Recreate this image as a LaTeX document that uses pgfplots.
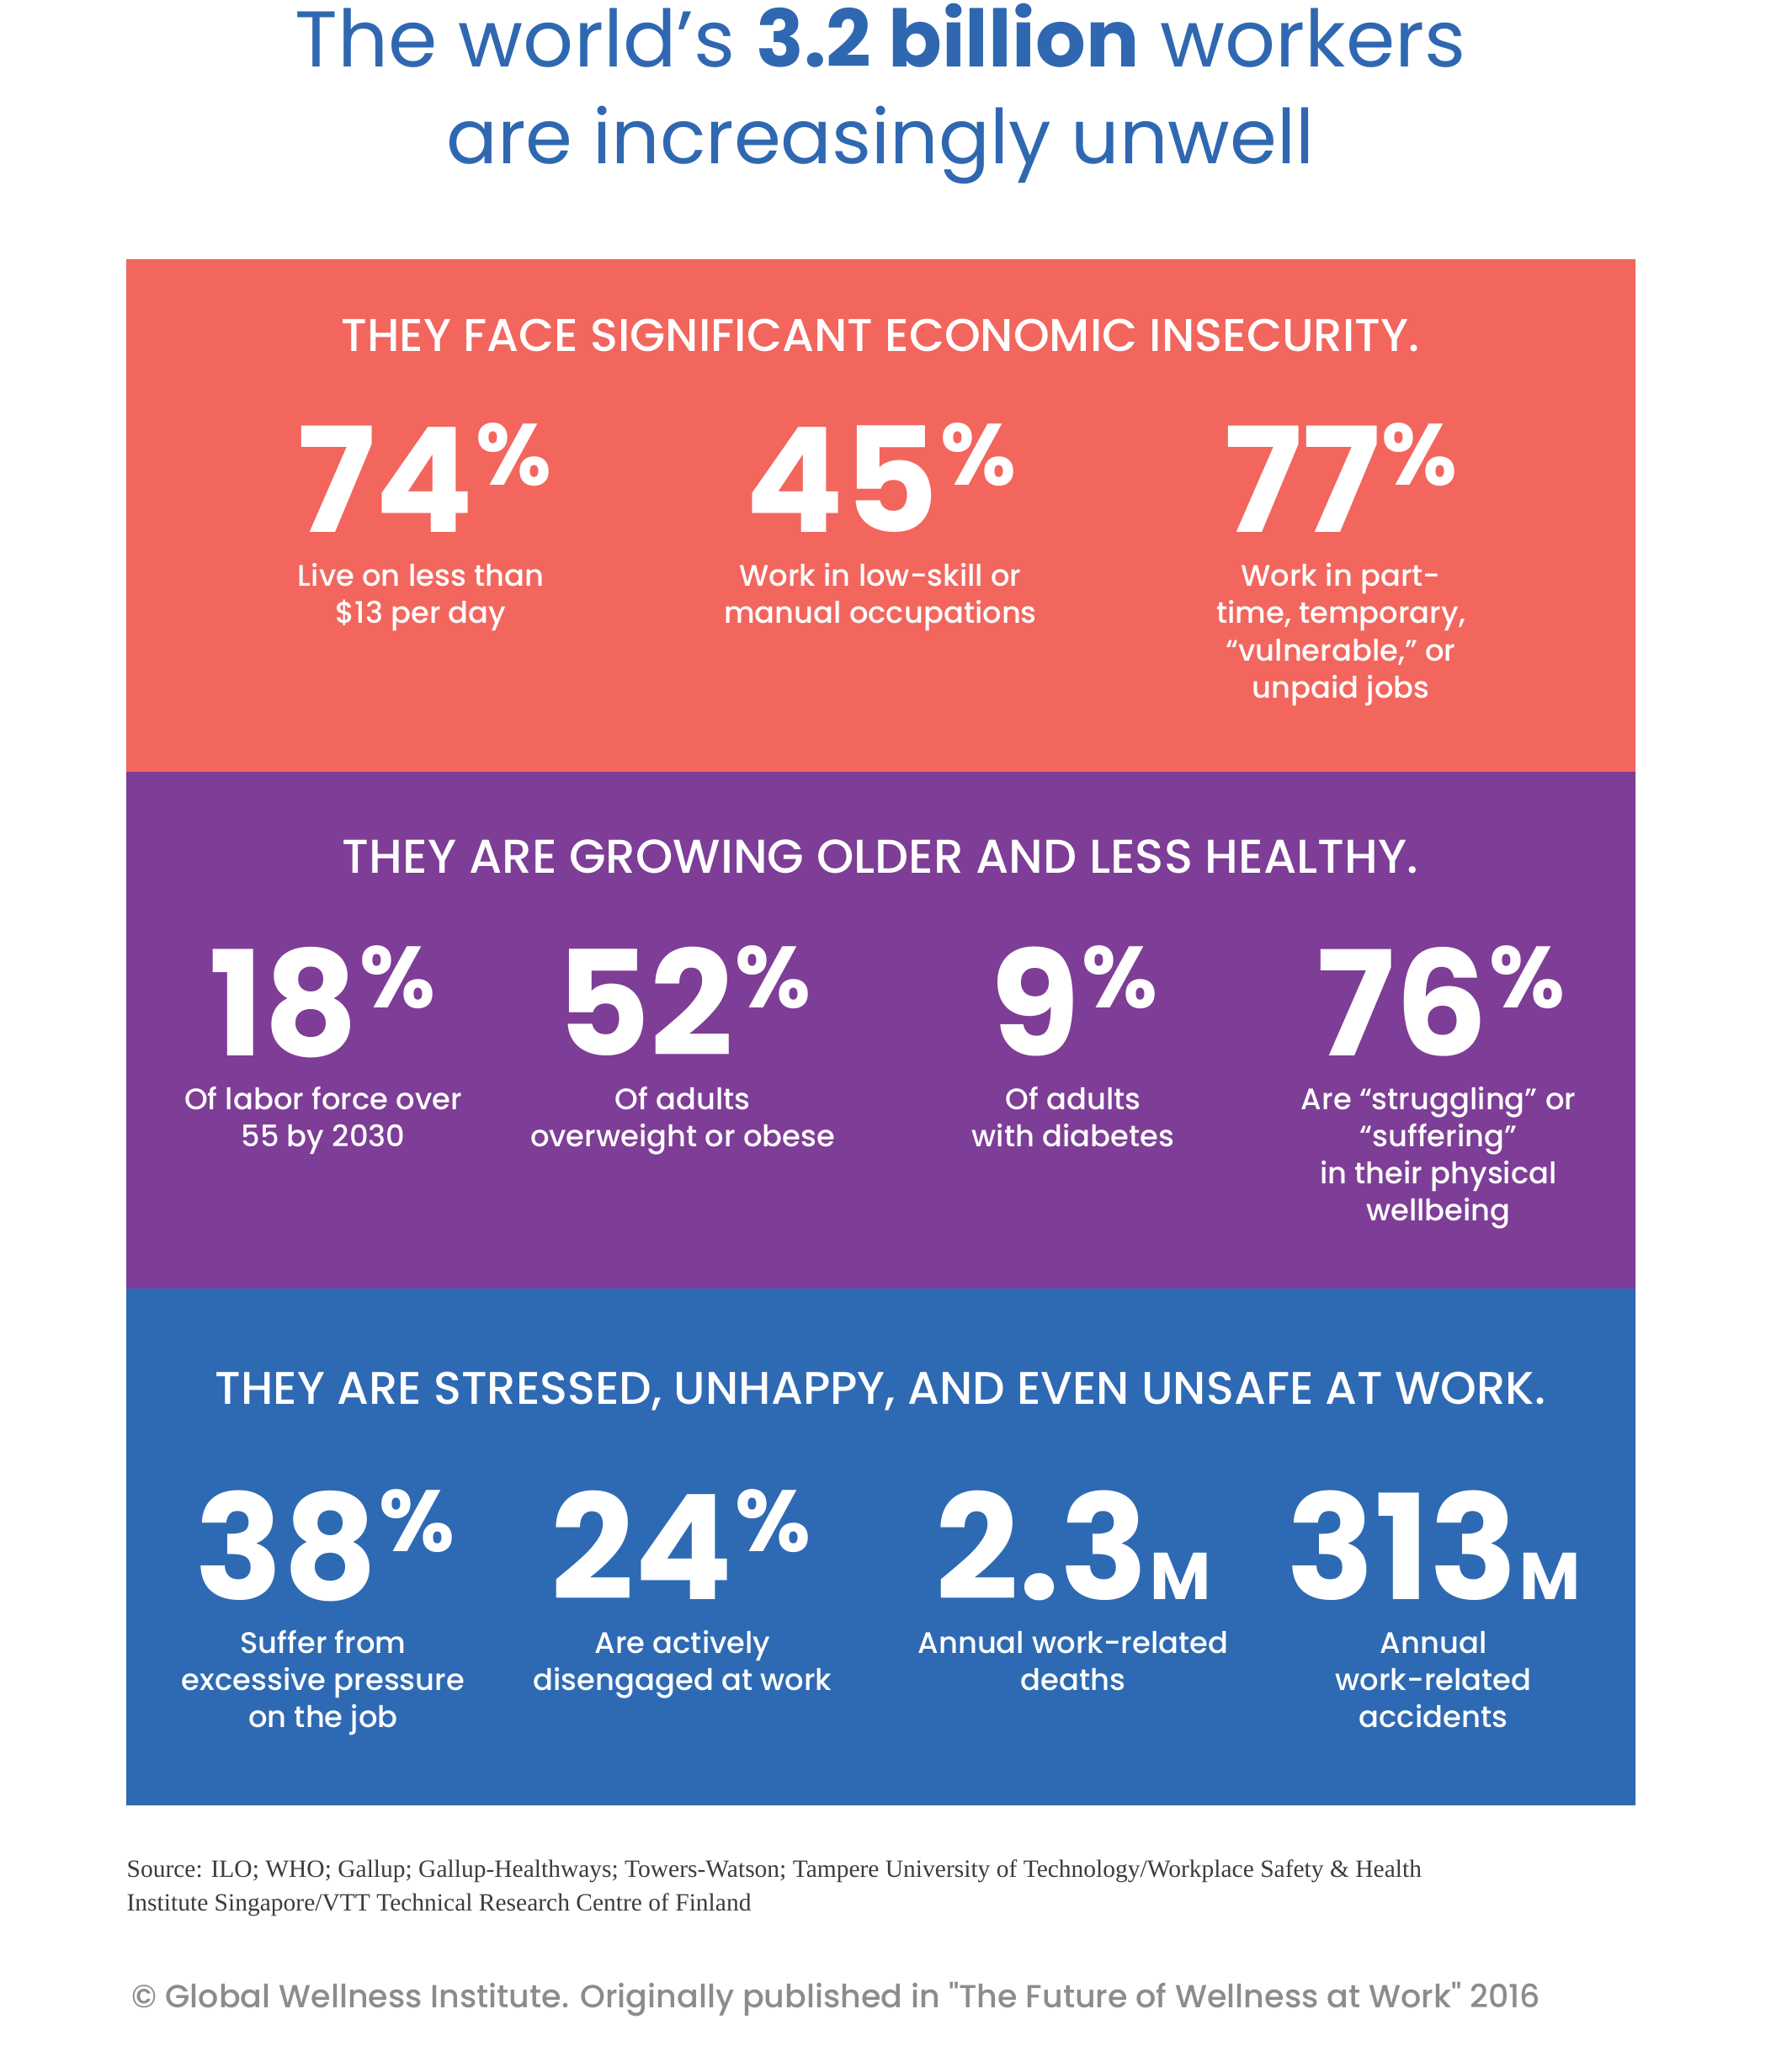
\documentclass[border=0pt]{standalone}
\usepackage{pgfplots}
\pgfplotsset{compat=1.18}
\usepackage{pgfplotstable}
\usepackage{fontspec}
\setmainfont{Poppins}
\newfontfamily\medfont{Poppins Medium}
\newfontfamily\srcfont{Liberation Serif}
\definecolor{cred}{HTML}{F2665E}
\definecolor{cpurple}{HTML}{7E3D96}
\definecolor{cblue}{HTML}{2E6AB3}
\definecolor{ctitle}{HTML}{2F68B1}
\definecolor{csrc}{HTML}{3C3C3C}
\definecolor{ccopy}{HTML}{8C8C8C}
\newcommand\bigfont{\fontsize{52}{52}\selectfont\bfseries}
\newcommand\pctnum[1]{{\bigfont #1}\hspace{0.6pt}\raisebox{17pt}{\fontsize{31}{31}\selectfont\bfseries\%}}
\newcommand\mnum[1]{{\bigfont #1}\hspace{0.5pt}{\fontsize{23.6}{24}\selectfont\bfseries M}}
\newcommand\lab[3]{\node[anchor=base, text=white, inner sep=0pt, font=\medfont\fontsize{10.6}{12}\selectfont] at (axis cs:#1,#2) {#3};}
\newcommand\head[3]{\node[anchor=base, text=white, inner sep=0pt] at (axis cs:1046,#1) {\resizebox{#2}{!}{\medfont\fontsize{15}{18}\selectfont #3}};}

\pgfplotstableread{
x y label
504 633 74
1046 633 45
1593 633 77
383 1254 18
812 1254 52
1276 1254 9
1712 1254 76
386 1900 38
809 1900 24
}\pcttable
\pgfplotstableread{
x y label
1275 1900 2.3
1703 1900 313
}\mtable

\begin{document}
\begin{tikzpicture}
\begin{axis}[
  scale only axis, width=638.7pt, height=735pt,
  xmin=0, xmax=2129, ymin=0, ymax=2450, y dir=reverse,
  hide axis, clip=false]
% backgrounds
\addplot[fill=white, draw=none] coordinates {(0,0) (2129,0) (2129,2450) (0,2450) (0,0)};
\addplot[fill=cred, draw=none] coordinates {(150,308) (1943,308) (1943,917) (150,917) (150,308)};
\addplot[fill=cpurple, draw=none] coordinates {(150,917) (1943,917) (1943,1531) (150,1531) (150,917)};
\addplot[fill=cblue, draw=none] coordinates {(150,1531) (1943,1531) (1943,2145) (150,2145) (150,1531)};
% title
\node[anchor=base, text=ctitle, inner sep=0pt] at (axis cs:1046,80) {\resizebox{417.3pt}{!}{\fontsize{28}{30}\selectfont The world’s \textbf{3.2 billion} workers}};
\node[anchor=base, text=ctitle, inner sep=0pt] at (axis cs:1046,195) {\resizebox{309.3pt}{!}{\fontsize{28}{30}\selectfont are increasingly unwell}};
% headings
\head{418}{384.3pt}{THEY FACE SIGNIFICANT ECONOMIC INSECURITY.}
\head{1037}{383.4pt}{THEY ARE GROWING OLDER AND LESS HEALTHY.}
\head{1668}{474.3pt}{THEY ARE STRESSED, UNHAPPY, AND EVEN UNSAFE AT WORK.}
% big numbers
\addplot[only marks, mark=none, point meta=explicit symbolic,
  nodes near coords={\pctnum{\pgfplotspointmeta}},
  nodes near coords style={anchor=base, text=white, inner sep=0pt, text depth=0pt}]
  table[x=x, y=y, meta=label] {\pcttable};
\addplot[only marks, mark=none, point meta=explicit symbolic,
  nodes near coords={\mnum{\pgfplotspointmeta}},
  nodes near coords style={anchor=base, text=white, inner sep=0pt, text depth=0pt}]
  table[x=x, y=y, meta=label] {\mtable};
% labels row 1
\lab{500}{697}{Live on less than}
\lab{500}{741}{\$13 per day}
\lab{1046}{697}{Work in low-skill or}
\lab{1046}{741}{manual occupations}
\lab{1593}{697}{Work in part-}
\lab{1593}{741}{time, temporary,}
\lab{1593}{785}{“vulnerable,” or}
\lab{1593}{829}{unpaid jobs}
% labels row 2
\lab{384}{1318}{Of labor force over}
\lab{384}{1362}{55 by 2030}
\lab{811}{1318}{Of adults}
\lab{811}{1362}{overweight or obese}
\lab{1275}{1318}{Of adults}
\lab{1275}{1362}{with diabetes}
\lab{1709}{1318}{Are “struggling” or}
\lab{1709}{1362}{“suffering”}
\lab{1709}{1406}{in their physical}
\lab{1709}{1450}{wellbeing}
% labels row 3
\lab{384}{1964}{Suffer from}
\lab{384}{2008}{excessive pressure}
\lab{384}{2052}{on the job}
\lab{811}{1964}{Are actively}
\lab{811}{2008}{disengaged at work}
\lab{1275}{1964}{Annual work-related}
\lab{1275}{2008}{deaths}
\lab{1703}{1964}{Annual}
\lab{1703}{2008}{work-related}
\lab{1703}{2052}{accidents}
% source
\node[anchor=base west, text=csrc, inner sep=0pt, font=\srcfont\fontsize{8.85}{11}\selectfont] at (axis cs:150,2230) {Source: ILO; WHO; Gallup; Gallup-Healthways; Towers-Watson; Tampere University of Technology/Workplace Safety \& Health};
\node[anchor=base west, text=csrc, inner sep=0pt, font=\srcfont\fontsize{8.85}{11}\selectfont] at (axis cs:150,2270) {Institute Singapore/VTT Technical Research Centre of Finland};
\node[anchor=base west, text=ccopy, inner sep=0pt, font=\medfont\fontsize{11.4}{13}\selectfont] at (axis cs:156,2385) {© Global Wellness Institute. Originally published in "The Future of Wellness at Work" 2016};
\end{axis}
\end{tikzpicture}
\end{document}
